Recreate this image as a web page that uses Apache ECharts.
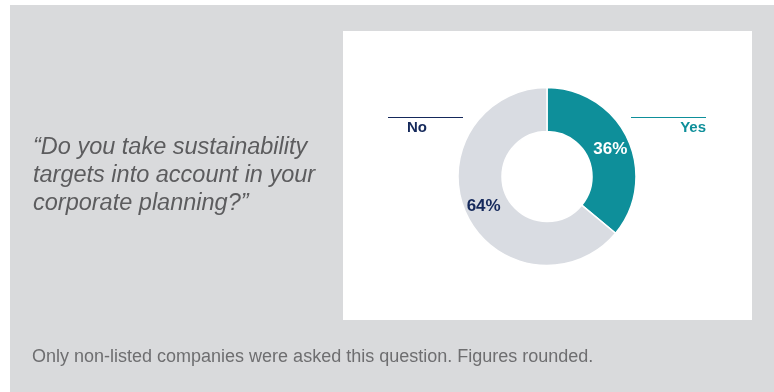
<!DOCTYPE html>
<html>
<head>
<meta charset="utf-8">
<script src="https://cdn.jsdelivr.net/npm/echarts@6/dist/echarts.min.js"></script>
<style>
html,body{margin:0;padding:0;background:#ffffff;}
#chart{width:774px;height:392px;}
</style>
</head>
<body>
<div id="chart"></div>
<script>
const categories = ['Yes', 'No'];
const values = [36, 64];
const sliceColors = ['#0e8f9a', '#d9dce2'];
const labelColors = ['#ffffff', '#15295b'];
const legendColors = ['#0e8f9a', '#15295b'];
const questionLines = ['\u201cDo you take sustainability', 'targets into account in your', 'corporate planning?\u201d'];
const footnote = 'Only non-listed companies were asked this question. Figures rounded.';

const chart = echarts.init(document.getElementById('chart'));
const option = {
  backgroundColor: '#ffffff',
  animation: false,
  graphic: [
    { type: 'rect', z: 0, shape: { x: 10, y: 5, width: 764, height: 387 }, style: { fill: '#d9dadc' } },
    { type: 'rect', z: 1, shape: { x: 343, y: 31, width: 409, height: 289 }, style: { fill: '#ffffff' } },
    { type: 'text', z: 2, x: 33, y: 175, style: { text: questionLines.join('\n'), font: 'italic 23.5px "Liberation Sans", Arial, sans-serif', fill: '#5c5c5e', lineHeight: 28, verticalAlign: 'middle', align: 'left' } },
    { type: 'text', z: 2, x: 32, y: 357.5, style: { text: footnote, font: '300 18px "Liberation Sans", Arial, sans-serif', fill: '#6e6e70', verticalAlign: 'middle', align: 'left' } },
    { type: 'line', z: 2, shape: { x1: 388, y1: 117.5, x2: 463, y2: 117.5 }, style: { stroke: legendColors[1], lineWidth: 1.2 } },
    { type: 'text', z: 2, x: 407, y: 127.5, style: { text: categories[1], font: 'bold 15px "Liberation Sans", Arial, sans-serif', fill: legendColors[1], verticalAlign: 'middle', align: 'left' } },
    { type: 'line', z: 2, shape: { x1: 631, y1: 117.5, x2: 706, y2: 117.5 }, style: { stroke: legendColors[0], lineWidth: 1.2 } },
    { type: 'text', z: 2, x: 706, y: 127.5, style: { text: categories[0], font: 'bold 15px "Liberation Sans", Arial, sans-serif', fill: legendColors[0], verticalAlign: 'middle', align: 'right' } }
  ],
  series: [{
    type: 'pie',
    z: 5,
    center: [547, 176.5],
    radius: [45, 89],
    startAngle: 90,
    clockwise: true,
    avoidLabelOverlap: false,
    itemStyle: { borderColor: '#ffffff', borderWidth: 1.5 },
    label: {
      show: true,
      position: 'inside',
      formatter: '{c}%',
      fontFamily: '"Liberation Sans", Arial, sans-serif',
      fontWeight: 'bold',
      fontSize: 17
    },
    labelLine: { show: false },
    emphasis: { disabled: true },
    data: categories.map((c, i) => ({
      name: c,
      value: values[i],
      itemStyle: { color: sliceColors[i] },
      label: { color: labelColors[i], offset: i === 0 ? [0, 3] : [0, 0] }
    }))
  }]
};
chart.setOption(option);
</script>
</body>
</html>
